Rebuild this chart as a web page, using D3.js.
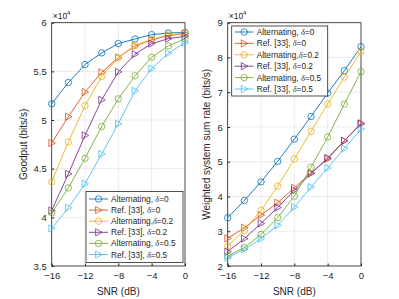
<!DOCTYPE html>
<html>
<head>
<meta charset="utf-8">
<script src="https://cdn.jsdelivr.net/npm/d3@7"></script>
<style>
  body { margin: 0; background: #fff; }
  text { font-family: "Liberation Sans", Arial, sans-serif; fill: #262626; }
</style>
</head>
<body>
<div id="chart"></div>
<script>
// SNR points (dB)
const snr = [-16, -14, -12, -10, -8, -6, -4, -2, 0];
const xTicks = [-16, -12, -8, -4, 0];

// legend: text before delta, value after it
const seriesPrefix = ["Alternating, ", "Ref. [33], ", "Alternating,", "Ref. [33], ", "Alternating, ", "Ref. [33], "];
const seriesDelta = ["0", "0", "0.2", "0.2", "0.5", "0.5"];
const seriesColors = ["#0072BD", "#D95319", "#EDB120", "#7E2F8E", "#77AC30", "#4DBEEE"];
const seriesMarkers = ["circle", "triangle", "circle", "triangle", "circle", "triangle"];

// goodput, x 1e4 bits/s
const goodAlt0   = [5.167, 5.385, 5.57, 5.69, 5.785, 5.833, 5.877, 5.894, 5.90];
const goodRef0   = [4.764, 5.034, 5.287, 5.49, 5.642, 5.761, 5.823, 5.867, 5.887];
const goodAlt02  = [4.365, 4.774, 5.147, 5.447, 5.64, 5.765, 5.83, 5.874, 5.89];
const goodRef02  = [4.07, 4.447, 4.842, 5.208, 5.495, 5.676, 5.785, 5.836, 5.86];
const goodAlt05  = [4.047, 4.303, 4.607, 4.934, 5.218, 5.454, 5.645, 5.761, 5.833];
const goodRef05  = [3.886, 4.098, 4.344, 4.651, 4.962, 5.30, 5.529, 5.686, 5.795];
const goodTicks = [3.5, 4, 4.5, 5, 5.5, 6];

// weighted system sum rate, x 1e4 bits/s
const rateAlt0  = [3.39, 3.885, 4.42, 5.01, 5.65, 6.30, 6.975, 7.62, 8.31];
const rateRef0  = [2.795, 3.10, 3.465, 3.82, 4.25, 4.68, 5.08, 5.60, 6.11];
const rateAlt02 = [2.574, 3.025, 3.60, 4.296, 5.08, 5.873, 6.66, 7.433, 8.168];
const rateRef02 = [2.413, 2.787, 3.226, 3.68, 4.18, 4.66, 5.11, 5.60, 6.09];
const rateAlt05 = [2.287, 2.53, 2.91, 3.39, 4.01, 4.84, 5.71, 6.66, 7.594];
const rateRef05 = [2.24, 2.48, 2.787, 3.168, 3.693, 4.27, 4.82, 5.38, 5.94];
const rateTicks = [2, 3, 4, 5, 6, 7, 8, 9];

const W = 399, H = 299;
const svg = d3.select("#chart").append("svg")
  .attr("width", W).attr("height", H);

function drawMarker(g, type, color, cx, cy) {
  if (type === "circle") {
    g.append("circle").attr("cx", cx).attr("cy", cy).attr("r", 3.2)
      .attr("fill", "none").attr("stroke", color).attr("stroke-width", 0.8);
  } else {
    const s = 3.6;
    g.append("path")
      .attr("d", `M${cx - s * 0.8},${cy - s}L${cx + s},${cy}L${cx - s * 0.8},${cy + s}Z`)
      .attr("fill", "none").attr("stroke", color).attr("stroke-width", 0.8);
  }
}

function panel(opt) {
  const x = d3.scaleLinear().domain([-16, 0]).range([opt.left, opt.right]);
  const y = d3.scaleLinear().domain(opt.yDomain).range([opt.bottom, opt.top]);
  const g = svg.append("g");

  // grid
  g.selectAll(".gx").data(xTicks).enter().append("line")
    .attr("x1", d => x(d)).attr("x2", d => x(d))
    .attr("y1", opt.top).attr("y2", opt.bottom)
    .attr("stroke", "#e6e6e6").attr("stroke-width", 0.8);
  g.selectAll(".gy").data(opt.yTicks).enter().append("line")
    .attr("x1", opt.left).attr("x2", opt.right)
    .attr("y1", d => y(d)).attr("y2", d => y(d))
    .attr("stroke", "#e6e6e6").attr("stroke-width", 0.8);

  // axes (ticks inside)
  g.append("g").attr("transform", `translate(0,${opt.bottom})`)
    .call(d3.axisBottom(x).tickValues(xTicks).tickSizeInner(-2.5).tickSizeOuter(0).tickPadding(6))
    .call(a => a.select(".domain").remove())
    .call(a => a.selectAll("line").attr("stroke", "#262626"))
    .call(a => a.selectAll("text").attr("font-size", 9.5).attr("fill", "#262626")
      .style("font-family", "Liberation Sans, Arial, sans-serif"));
  g.append("g").attr("transform", `translate(${opt.left},0)`)
    .call(d3.axisLeft(y).tickValues(opt.yTicks).tickFormat(d3.format("~g")).tickSizeInner(-2.5).tickSizeOuter(0).tickPadding(5))
    .call(a => a.select(".domain").remove())
    .call(a => a.selectAll("line").attr("stroke", "#262626"))
    .call(a => a.selectAll("text").attr("font-size", 9.5).attr("fill", "#262626")
      .style("font-family", "Liberation Sans, Arial, sans-serif"));

  g.append("rect").attr("x", opt.left).attr("y", opt.top)
    .attr("width", opt.right - opt.left).attr("height", opt.bottom - opt.top)
    .attr("fill", "none").attr("stroke", "#262626").attr("stroke-width", 0.8);

  // exponent label
  const ex = g.append("text").attr("x", opt.left + 1).attr("y", opt.top - 3.5)
    .attr("font-size", 8.5).attr("fill", "#262626");
  ex.append("tspan").text("\u00d710");
  ex.append("tspan").attr("font-size", 6).attr("dy", -4).text("4");

  // series
  const line = d3.line().x((d, i) => x(snr[i])).y(d => y(d));
  opt.series.forEach((vals, k) => {
    g.append("path").attr("d", line(vals))
      .attr("fill", "none").attr("stroke", seriesColors[k]).attr("stroke-width", 0.9);
    vals.forEach((v, i) => drawMarker(g, seriesMarkers[k], seriesColors[k], x(snr[i]), y(v)));
  });

  // labels
  g.append("text").attr("x", (opt.left + opt.right) / 2).attr("y", opt.bottom + 29)
    .attr("text-anchor", "middle").attr("font-size", 10).text("SNR (dB)");
  g.append("text")
    .attr("transform", `translate(${opt.yLabelX},${(opt.top + opt.bottom) / 2}) rotate(-90)`)
    .attr("text-anchor", "middle").attr("font-size", 10).text(opt.yLabel);

  // legend
  const lg = opt.legend;
  g.append("rect").attr("x", lg.x).attr("y", lg.y).attr("width", lg.w).attr("height", lg.h)
    .attr("fill", "#fff").attr("stroke", "#262626").attr("stroke-width", 0.8);
  seriesPrefix.forEach((name, k) => {
    const yy = lg.y + lg.first + k * lg.step;
    g.append("line").attr("x1", lg.x + 3).attr("x2", lg.x + 22)
      .attr("y1", yy).attr("y2", yy).attr("stroke", seriesColors[k]).attr("stroke-width", 0.9);
    drawMarker(g, seriesMarkers[k], seriesColors[k], lg.x + 12.5, yy);
    const t = g.append("text").attr("x", lg.x + 25).attr("y", yy + 3).attr("font-size", 8.3);
    t.append("tspan").text(name);
    t.append("tspan").style("font-style", "italic")
      .style("font-family", "Liberation Serif, serif").text("\u03b4");
    t.append("tspan").text("=" + seriesDelta[k]);
  });
}

panel({
  left: 51.7, right: 185, top: 22.7, bottom: 266,
  yDomain: [3.5, 6], yTicks: goodTicks,
  series: [goodAlt0, goodRef0, goodAlt02, goodRef02, goodAlt05, goodRef05],
  yLabel: "Goodput (bits/s)", yLabelX: 27,
  legend: { x: 86, y: 191.5, w: 97, h: 71, first: 7.5, step: 11.1 }
});

panel({
  left: 227.7, right: 361, top: 22.7, bottom: 266,
  yDomain: [2, 9], yTicks: rateTicks,
  series: [rateAlt0, rateRef0, rateAlt02, rateRef02, rateAlt05, rateRef05],
  yLabel: "Weighted system sum rate (bits/s)", yLabelX: 210,
  legend: { x: 231.7, y: 26, w: 96, h: 70, first: 6, step: 11.4 }
});
</script>
</body>
</html>
